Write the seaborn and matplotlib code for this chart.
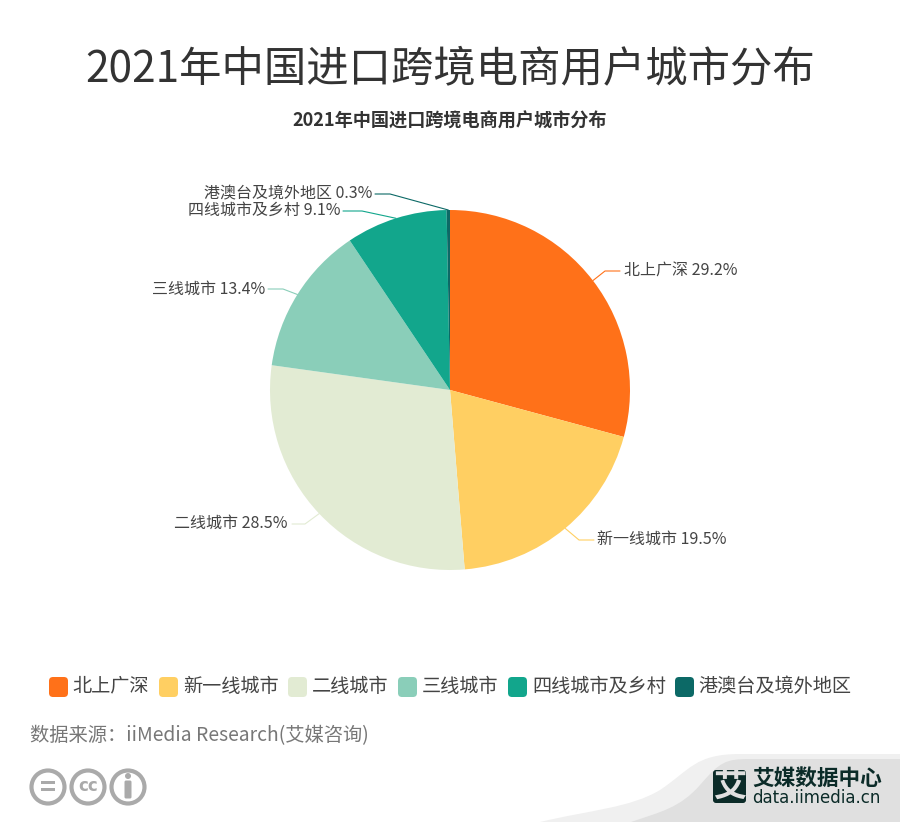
import numpy as np
import matplotlib
matplotlib.use("Agg")
import matplotlib.pyplot as plt
from matplotlib.patches import Circle, FancyBboxPatch, PathPatch, Rectangle
from matplotlib.path import Path
import seaborn as sns

categories = ["北上广深", "新一线城市", "二线城市", "三线城市", "四线城市及乡村", "港澳台及境外地区"]
values = [29.2, 19.5, 28.5, 13.4, 9.1, 0.3]
colors = ["#FF7119", "#FFCF62", "#E2EBD3", "#8ACEB9", "#12A68C", "#0C6966"]
title = "2021年中国进口跨境电商用户城市分布"
source = "数据来源：iiMedia Research(艾媒咨询)"

sns.set_theme(style="white")
plt.rcParams["font.family"] = ["Noto Sans CJK SC", "DejaVu Sans"]
palette = sns.color_palette(colors)

W, H = 900, 822
fig = plt.figure(figsize=(9, 8.22), dpi=100, facecolor="white")
ax = fig.add_axes([0, 0, 1, 1])
ax.set_xlim(0, W)
ax.set_ylim(0, H)
ax.axis("off")
Y = lambda y: H - y

CX, CY, R = 450, 390, 180
ax.pie(values, colors=palette, center=(CX, Y(CY)), radius=R, startangle=90,
       counterclock=False, frame=True, wedgeprops=dict(linewidth=0))
ax.set_xlim(0, W)
ax.set_ylim(0, H)
ax.set_aspect("auto")
ax.axis("off")

ax.text(450, Y(69), title, fontsize=30.5, color="#333333", ha="center", va="center")
ax.text(450, Y(121), title, fontsize=13.1, color="#333333", ha="center", va="center", fontweight="bold")

# (elbow x, elbow y, horizontal end x, text x, text y, alignment)
leaders = [
    (605, 271, 620, 624, 271, "left"),
    (579, 540, 594, 597, 539, "left"),
    (305, 524, 292, 288, 523, "right"),
    (283, 289, 268, 265, 289, "right"),
    (362, 211, 343, 340, 210, "right"),
    (390, 194, 375, 372, 194, "right"),
]
cum = 0.0
total = sum(values)
for val, col, cat, (ex, ey, xe, tx, ty, al) in zip(values, palette, categories, leaders):
    mid = np.deg2rad((cum + val / 2) / total * 360)
    cum += val
    sx, sy = CX + R * np.sin(mid), CY - R * np.cos(mid)
    ax.plot([sx, ex, xe], [Y(sy), Y(ey), Y(ey)], color=col, lw=0.8, solid_joinstyle="round")
    ax.text(tx, Y(ty), f"{cat} {val}%", fontsize=11.5, color="#444444", ha=al, va="center")

legend_mark_x = [49, 159, 288, 398, 508, 675]
legend_text_x = [72, 183, 312, 422, 532, 698]
for cat, col, mx, tx in zip(categories, palette, legend_mark_x, legend_text_x):
    ax.add_patch(FancyBboxPatch((mx + 4, Y(697) + 4), 11, 12, boxstyle="round,pad=4,rounding_size=4",
                                fc=col, ec="none"))
    ax.text(tx, Y(686), cat, fontsize=13.8, color="#444444", ha="left", va="center")

ax.text(30, Y(736), source, fontsize=13.9, color="#777777", ha="left", va="center")

# corner swoosh
def swoosh(pts, col):
    verts = [(x, Y(y)) for x, y in pts]
    codes = [Path.MOVETO, Path.CURVE4, Path.CURVE4, Path.CURVE4, Path.CURVE4, Path.CURVE4, Path.CURVE4,
             Path.LINETO, Path.LINETO, Path.CLOSEPOLY]
    ax.add_patch(PathPatch(Path(verts, codes), fc=col, ec="none"))

swoosh([(540, 822), (590, 810), (630, 808), (660, 790), (690, 770), (695, 754), (740, 754),
        (900, 754), (900, 822), (540, 822)], "#F0F0F0")
swoosh([(631, 822), (660, 812), (680, 808), (700, 785), (720, 762), (725, 759), (750, 759),
        (900, 759), (900, 822), (631, 822)], "#E0E0E0")

# logo
ax.add_patch(FancyBboxPatch((715, Y(801)), 29, 29, boxstyle="round,pad=2,rounding_size=3", fc="#0B2B28", ec="none"))
ax.text(729.5, Y(786), "艾", fontsize=24, color="#E0E0E0", ha="center", va="center", fontweight="bold")
ax.text(817, Y(778), "艾媒数据中心", fontsize=15.6, color="#0B2B28", ha="center", va="center", fontweight="bold")
ax.text(816, Y(798), "data.iimedia.cn", fontsize=12, color="#0B2B28", ha="center", va="center",
        family="DejaVu Sans")

# licence icons
G = "#AAAAAA"
for cx in (48, 88, 128):
    ax.add_patch(Circle((cx, Y(787)), 16.5, fc="white", ec=G, lw=3))
ax.add_patch(Rectangle((41, Y(784)), 14, 3, fc=G, ec="none"))
ax.add_patch(Rectangle((41, Y(791)), 14, 3, fc=G, ec="none"))
ax.text(88, Y(786), "cc", fontsize=12, color=G, ha="center", va="center", fontweight="bold", family="DejaVu Sans")
ax.add_patch(Circle((128, Y(776)), 3, fc=G, ec="none"))
ax.add_patch(FancyBboxPatch((125, Y(798)), 6, 17, boxstyle="round,pad=0.5,rounding_size=1.5", fc=G, ec="none"))

fig.savefig("out.png", dpi=100, facecolor="white")
